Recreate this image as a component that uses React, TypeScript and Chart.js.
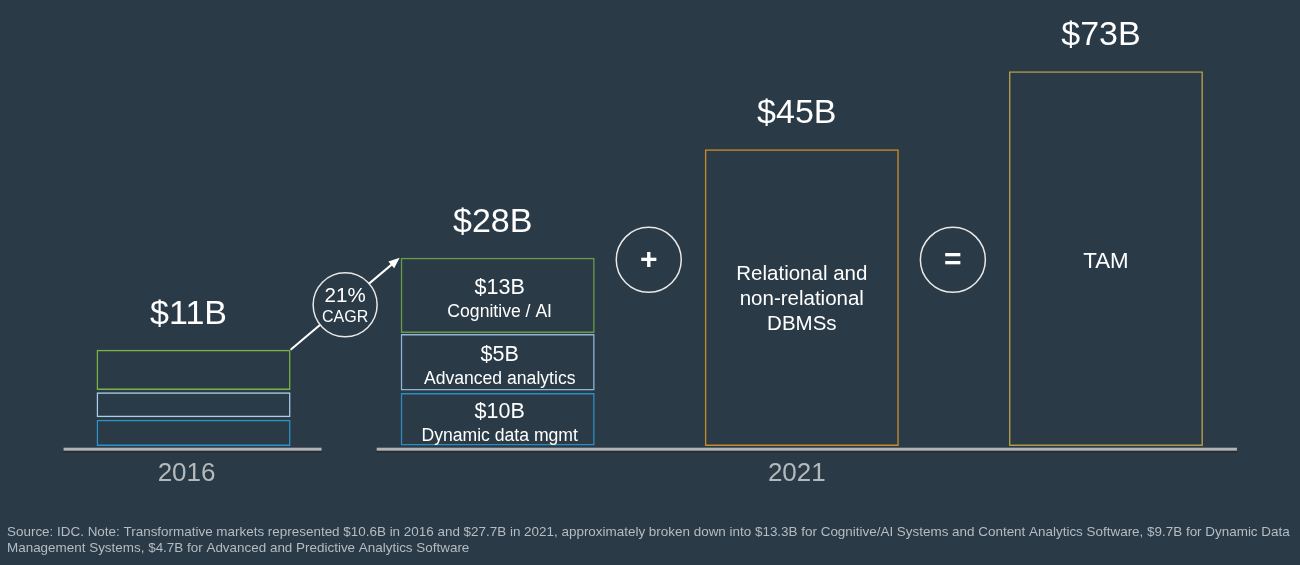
import React, { useEffect, useRef } from 'react';
import { Chart, registerables } from 'chart.js';

Chart.register(...registerables);

// ---- data ----
const categories = ['2016', '2021 transformative', '2021 DBMS', '2021 TAM'];
const totalLabels = ['$11B', '$28B', '$45B', '$73B'];
const yearLabels = ['2016', '2021'];
// floating bar extents on the hidden value axis
const dynamicDataBars = [[0, 5.1], [0.1, 10.3], null, null];
const advancedAnalyticsBars = [[5.6, 10.45], [10.8, 21.8], null, null];
const cognitiveBars = [[10.9, 18.7], [22.0, 36.6], null, null];
const marketBars = [null, null, [0, 57.7], [0, 72.9]];
const segmentValues = ['$10B', '$5B', '$13B'];
const segmentNames = ['Dynamic data mgmt', 'Advanced analytics', 'Cognitive / AI'];
const dbmsLines = ['Relational and', 'non-relational', 'DBMSs'];
const tamLabel = 'TAM';
const cagrLines = ['21%', 'CAGR'];
const footnoteLines = [
  'Source: IDC. Note: Transformative markets represented $10.6B in 2016 and $27.7B in 2021, approximately broken down into $13.3B for Cognitive/AI Systems and Content Analytics Software, $9.7B for Dynamic Data',
  'Management Systems, $4.7B for Advanced and Predictive Analytics Software',
];

const FONT = '"Liberation Sans", Arial, sans-serif';
const BG = '#2a3a46';

function text(ctx: CanvasRenderingContext2D, s: string, x: number, y: number, size: number, color = '#ffffff', weight = 'normal', align: CanvasTextAlign = 'center') {
  ctx.font = `${weight} ${size}px ${FONT}`;
  ctx.fillStyle = color;
  ctx.textAlign = align;
  ctx.textBaseline = 'middle';
  ctx.fillText(s, x, y);
}

function circle(ctx: CanvasRenderingContext2D, x: number, y: number, r: number) {
  ctx.beginPath();
  ctx.arc(x, y, r, 0, Math.PI * 2);
  ctx.fillStyle = BG;
  ctx.fill();
  ctx.lineWidth = 1.5;
  ctx.strokeStyle = '#e8e8e8';
  ctx.stroke();
}

const overlayPlugin = {
  id: 'overlay',
  beforeDraw(chart: any) {
    const ctx = chart.ctx;
    ctx.save();
    ctx.fillStyle = BG;
    ctx.fillRect(0, 0, chart.width, chart.height);
    ctx.restore();
  },
  afterDatasetsDraw(chart: any) {
    const ctx: CanvasRenderingContext2D = chart.ctx;
    const dyn = chart.getDatasetMeta(0).data;
    const adv = chart.getDatasetMeta(1).data;
    const cog = chart.getDatasetMeta(2).data;
    const mkt = chart.getDatasetMeta(3).data;
    const bottom = chart.chartArea.bottom;
    ctx.save();

    // baselines
    const drawBase = (x1: number, x2: number) => {
      ctx.fillStyle = '#1f2b35';
      ctx.fillRect(x1, bottom + 4.5, x2 - x1, 2);
      ctx.fillStyle = '#b2b2b2';
      ctx.fillRect(x1, bottom + 1.7, x2 - x1, 3);
    };
    drawBase(dyn[0].x - 130, dyn[0].x + 128);
    drawBase(adv[1].x - 121, mkt[3].x + 131);

    // year labels
    text(ctx, yearLabels[0], dyn[0].x - 7, bottom + 28, 26, '#b4b9bc');
    text(ctx, yearLabels[1], mkt[2].x - 5, bottom + 28, 26, '#b4b9bc');

    // totals above bars
    const tops = [cog[0].y, cog[1].y, mkt[2].y, mkt[3].y];
    const xs = [cog[0].x, cog[1].x, mkt[2].x, mkt[3].x];
    for (let i = 0; i < 4; i++) {
      text(ctx, totalLabels[i], xs[i] - 5, tops[i] - 35.5, 34);
    }

    // segment labels for the 2021 stack
    const segs = [dyn[1], adv[1], cog[1]];
    segs.forEach((el: any, i: number) => {
      const c = (el.y + el.base) / 2;
      text(ctx, segmentValues[i], el.x + 2, c - 7.5, 21.5);
      text(ctx, segmentNames[i], el.x + 2, c + 16.5, 17.6);
    });

    // DBMS bar text
    const db = mkt[2];
    const dbc = (db.y + db.base) / 2;
    dbmsLines.forEach((s, i) => text(ctx, s, db.x, dbc + 2 + (i - 1) * 25, 20.5));
    // TAM bar text
    const tm = mkt[3];
    text(ctx, tamLabel, tm.x, (tm.y + tm.base) / 2 + 3, 22.3);

    // CAGR arrow
    const sx = cog[0].x + cog[0].width / 2;
    const sy = cog[0].y;
    const ex = cog[1].x - cog[1].width / 2 - 1;
    const ey = cog[1].y;
    const ang = Math.atan2(ey - sy, ex - sx);
    const hl = 11;
    ctx.strokeStyle = '#ffffff';
    ctx.lineWidth = 2;
    ctx.beginPath();
    ctx.moveTo(sx, sy);
    ctx.lineTo(ex - Math.cos(ang) * (hl - 2), ey - Math.sin(ang) * (hl - 2));
    ctx.stroke();
    ctx.beginPath();
    ctx.moveTo(ex, ey);
    ctx.lineTo(ex - hl * Math.cos(ang) + 4.5 * Math.sin(ang), ey - hl * Math.sin(ang) - 4.5 * Math.cos(ang));
    ctx.lineTo(ex - hl * Math.cos(ang) - 4.5 * Math.sin(ang), ey - hl * Math.sin(ang) + 4.5 * Math.cos(ang));
    ctx.closePath();
    ctx.fillStyle = '#ffffff';
    ctx.fill();

    const cx = (sx + ex) / 2;
    const cy = (sy + ey) / 2 + 1;
    circle(ctx, cx, cy, 32);
    text(ctx, cagrLines[0], cx, cy - 9, 20.5);
    text(ctx, cagrLines[1], cx, cy + 13, 16);

    // + and = circles
    const midY = cog[1].y + 2;
    const plusX = (cog[1].x + cog[1].width / 2 + mkt[2].x - mkt[2].width / 2) / 2 - 1;
    circle(ctx, plusX, midY, 32.5);
    text(ctx, '+', plusX, midY + 1, 30, '#ffffff', 'bold');
    const eqX = (mkt[2].x + mkt[2].width / 2 + mkt[3].x - mkt[3].width / 2) / 2 - 1;
    circle(ctx, eqX, midY, 32.5);
    text(ctx, '=', eqX, midY + 1, 30, '#ffffff', 'bold');

    // footnote
    footnoteLines.forEach((s, i) => text(ctx, s, 7, 532.5 + i * 16, 13.45, '#b5bcc2', 'normal', 'left'));

    ctx.restore();
  },
};

export default function App() {
  const ref = useRef<HTMLCanvasElement | null>(null);
  useEffect(() => {
    if (!ref.current) return;
    const common = {
      borderWidth: 1.5,
      borderSkipped: false,
      backgroundColor: 'rgba(0,0,0,0)',
      stack: 'all',
      barPercentage: 0.638,
      categoryPercentage: 1,
    };
    const chart = new Chart(ref.current, {
      type: 'bar',
      data: {
        labels: categories,
        datasets: [
          { ...common, label: 'Dynamic data mgmt', data: dynamicDataBars as any, borderColor: ['#2d93c9', '#2f8cc0', '#2f8cc0', '#2f8cc0'] },
          { ...common, label: 'Advanced analytics', data: advancedAnalyticsBars as any, borderColor: ['#a8d0ec', '#8fb6d6', '#8fb6d6', '#8fb6d6'] },
          { ...common, label: 'Cognitive / AI', data: cognitiveBars as any, borderColor: ['#7cb342', '#6b9a48', '#6b9a48', '#6b9a48'] },
          { ...common, label: 'DBMS / TAM', data: marketBars as any, borderColor: ['#c98a2a', '#c98a2a', '#c98a2a', '#b09a47'] },
        ],
      },
      options: {
        responsive: false,
        animation: false,
        events: [],
        layout: { padding: { left: 41.5, right: 42, top: 9, bottom: 119 } },
        plugins: { legend: { display: false }, tooltip: { enabled: false } },
        scales: {
          x: { display: false, stacked: true, offset: true, grid: { display: false } },
          y: { display: false, stacked: false, min: 0, max: 85, grid: { display: false } },
        },
      },
      plugins: [overlayPlugin],
    });
    return () => chart.destroy();
  }, []);
  return (
    <div style={{ position: 'fixed', left: 0, top: 0, width: 1300, height: 565, background: BG }}>
      <canvas ref={ref} width={1300} height={565} style={{ display: 'block', width: 1300, height: 565 }} />
    </div>
  );
}
